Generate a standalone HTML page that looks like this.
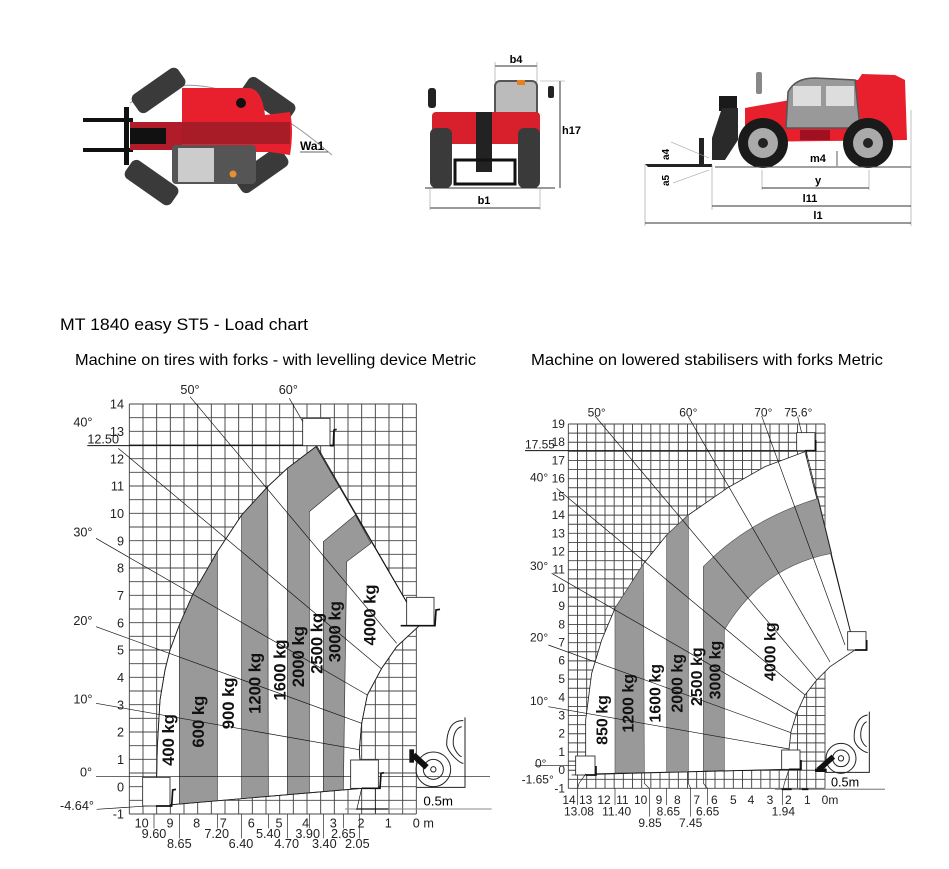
<!DOCTYPE html>
<html><head><meta charset="utf-8"><style>
html,body{margin:0;padding:0;background:#fff;}
svg{display:block;font-family:"Liberation Sans",sans-serif;}
</style></head><body>
<svg width="949" height="869" viewBox="0 0 949 869" xmlns="http://www.w3.org/2000/svg">
<rect width="949" height="869" fill="#fff"/>

<!-- ===== Top-left: top view ===== -->
<g>
  <path d="M130,103 Q210,50 332,155" fill="none" stroke="#999" stroke-width="1"/>
  <g fill="#3a3a3a">
    <rect x="-20" y="-11" width="56" height="22" rx="6" transform="translate(152,95) rotate(-35)"/>
    <rect x="-20" y="-11" width="56" height="22" rx="6" transform="translate(262,95) rotate(35)"/>
    <rect x="-20" y="-11" width="56" height="22" rx="6" transform="translate(145,178) rotate(35)"/>
    <rect x="-20" y="-11" width="56" height="22" rx="6" transform="translate(255,175) rotate(-35)"/>
  </g>
  <rect x="83" y="118" width="50" height="4" fill="#111"/>
  <rect x="83" y="148" width="50" height="4" fill="#111"/>
  <rect x="124" y="107" width="5" height="58" fill="#111"/>
  <rect x="130" y="122" width="60" height="28" fill="#b01c2a"/>
  <rect x="130" y="128" width="36" height="16" fill="#111"/>
  <path d="M182,88 L250,88 Q262,90 265,115 L290,112 Q294,130 290,155 L270,152 L182,152 Z" fill="#e8202e"/>
  <rect x="182" y="122" width="108" height="22" fill="#a81c28"/>
  <circle cx="241" cy="103" r="5" fill="#111"/>
  <rect x="172" y="145" width="84" height="39" rx="4" fill="#555"/>
  <rect x="178" y="148" width="36" height="34" fill="#ccc"/>
  <circle cx="233" cy="174" r="3.5" fill="#e8902e"/>
  <text x="300" y="150" font-size="12" font-weight="bold">Wa1</text>
  <line x1="300" y1="152" x2="328" y2="152" stroke="#333" stroke-width="0.8"/>
</g>

<!-- ===== Top-middle: front view ===== -->
<g>
  <rect x="495" y="81" width="42" height="48" rx="5" fill="#bbb" stroke="#555" stroke-width="2"/>
  <rect x="432" y="112" width="108" height="32" rx="4" fill="#d8202c"/>
  <rect x="476" y="112" width="16" height="60" fill="#222"/>
  <rect x="430" y="128" width="22" height="60" rx="6" fill="#3a3a3a"/>
  <rect x="518" y="128" width="22" height="60" rx="6" fill="#3a3a3a"/>
  <rect x="455" y="160" width="60" height="24" fill="none" stroke="#111" stroke-width="3"/>
  <rect x="428" y="88" width="8" height="20" rx="3" fill="#222"/>
  <rect x="548" y="86" width="6" height="12" rx="2" fill="#222"/>
  <rect x="517" y="80" width="8" height="5" fill="#e88020"/>
  <line x1="425" y1="188" x2="555" y2="188" stroke="#333" stroke-width="1"/>
  <line x1="495" y1="66" x2="537" y2="66" stroke="#333" stroke-width="1"/>
  <line x1="495" y1="62" x2="495" y2="82" stroke="#999" stroke-width="0.6"/>
  <line x1="537" y1="62" x2="537" y2="82" stroke="#999" stroke-width="0.6"/>
  <text x="516" y="63" font-size="11" font-weight="bold" text-anchor="middle">b4</text>
  <line x1="560" y1="81" x2="560" y2="188" stroke="#333" stroke-width="1"/>
  <line x1="540" y1="81" x2="565" y2="81" stroke="#999" stroke-width="0.6"/>
  <text x="562" y="134" font-size="11" font-weight="bold">h17</text>
  <line x1="430" y1="208" x2="540" y2="208" stroke="#333" stroke-width="1"/>
  <line x1="430" y1="188" x2="430" y2="210" stroke="#999" stroke-width="0.6"/>
  <line x1="540" y1="188" x2="540" y2="210" stroke="#999" stroke-width="0.6"/>
  <text x="484" y="204" font-size="11" font-weight="bold" text-anchor="middle">b1</text>
</g>

<!-- ===== Top-right: side view ===== -->
<g>
  <path d="M745,108 L790,100 Q800,78 830,78 L858,80 L862,74 L895,75 L905,80 L907,140 L745,142 Z" fill="#e8202e"/>
  <path d="M786,128 L788,92 Q795,78 815,78 L855,80 L860,128 Z" fill="#999" stroke="#555" stroke-width="1.5"/>
  <rect x="793" y="86" width="28" height="20" fill="#ddd"/>
  <rect x="826" y="86" width="28" height="20" fill="#ddd"/>
  <rect x="800" y="130" width="30" height="10" fill="#a01020"/>
  <rect x="719" y="96" width="18" height="15" fill="#1a1a1a"/>
  <path d="M722,108 L738,108 L738,140 L725,160 L712,160 L712,138 Z" fill="#2a2a2a"/>
  <rect x="699" y="138" width="5" height="26" fill="#222"/>
  <path d="M645,164 L712,164 L712,167 L648,167 Z" fill="#222"/>
  <circle cx="763" cy="143" r="25" fill="#1a1a1a"/><circle cx="763" cy="143" r="15" fill="#aaa"/><circle cx="763" cy="143" r="5" fill="#222"/>
  <circle cx="868" cy="143" r="25" fill="#1a1a1a"/><circle cx="868" cy="143" r="15" fill="#aaa"/><circle cx="868" cy="143" r="5" fill="#222"/>
  <rect x="756" y="72" width="6" height="22" rx="2" fill="#888"/>
  <line x1="715" y1="167" x2="911" y2="167" stroke="#444" stroke-width="1"/>
  <line x1="911" y1="110" x2="911" y2="226" stroke="#999" stroke-width="0.6"/>
  <line x1="645" y1="164" x2="645" y2="226" stroke="#999" stroke-width="0.6"/>
  <line x1="712" y1="165" x2="712" y2="210" stroke="#999" stroke-width="0.6"/>
  <line x1="762" y1="170" x2="762" y2="190" stroke="#999" stroke-width="0.6"/>
  <line x1="869" y1="170" x2="869" y2="190" stroke="#999" stroke-width="0.6"/>
  <line x1="762" y1="188" x2="869" y2="188" stroke="#333" stroke-width="1"/>
  <text x="818" y="184" font-size="11" font-weight="bold" text-anchor="middle">y</text>
  <line x1="712" y1="206" x2="911" y2="206" stroke="#333" stroke-width="1"/>
  <text x="810" y="202" font-size="11" font-weight="bold" text-anchor="middle">l11</text>
  <line x1="645" y1="223" x2="911" y2="223" stroke="#333" stroke-width="1"/>
  <text x="818" y="219" font-size="11" font-weight="bold" text-anchor="middle">l1</text>
  <text x="810" y="162" font-size="11" font-weight="bold">m4</text>
  <line x1="837" y1="151" x2="837" y2="166" stroke="#333" stroke-width="0.8"/>
  <text transform="translate(669,160) rotate(-90)" font-size="10" font-weight="bold">a4</text>
  <text transform="translate(669,186) rotate(-90)" font-size="10" font-weight="bold">a5</text>
  <line x1="671" y1="142" x2="709" y2="158" stroke="#999" stroke-width="0.6"/>
  <line x1="673" y1="183" x2="709" y2="170" stroke="#999" stroke-width="0.6"/>
</g>

<!-- ===== Titles ===== -->
<text x="60" y="330" font-size="17" textLength="248" lengthAdjust="spacingAndGlyphs">MT 1840 easy ST5 - Load chart</text>
<text x="75" y="365" font-size="16" textLength="401" lengthAdjust="spacingAndGlyphs">Machine on tires with forks - with levelling device Metric</text>
<text x="531" y="365" font-size="16" textLength="352" lengthAdjust="spacingAndGlyphs">Machine on lowered stabilisers with forks Metric</text>

<!-- ===== Left chart ===== -->
<g transform="translate(80,380) scale(0.333333)" font-family="Liberation Sans, sans-serif">
  <g stroke="#444" stroke-width="2.8">
    <path d="M148,72V1302M189,72V1302M230,72V1302M271,72V1302M312,72V1302M353,72V1302M394,72V1302M435,72V1302M476,72V1302M517,72V1302M558,72V1302M599,72V1302M640,72V1302M681,72V1302M722,72V1302M763,72V1302M804,72V1302M845,72V1302M886,72V1302M927,72V1302M968,72V1302M1009,72V1302"/>
    <path d="M148,72H1009M148,113H1009M148,154H1009M148,195H1009M148,236H1009M148,277H1009M148,318H1009M148,359H1009M148,400H1009M148,441H1009M148,482H1009M148,523H1009M148,564H1009M148,605H1009M148,646H1009M148,687H1009M148,728H1009M148,769H1009M148,810H1009M148,851H1009M148,892H1009M148,933H1009M148,974H1009M148,1015H1009M148,1056H1009M148,1097H1009M148,1138H1009M148,1179H1009M148,1220H1009M148,1261H1009M148,1302H1009"/>
  </g>
  <polygon fill="#fff" stroke="#222" stroke-width="2.5" points="228,1278 232,1100 240,960 255,870 270,810 298,735 340,640 412,515 485,405 563,320 622,265 708,200 1020,735 950,800 905,865 862,945 845,1030 838,1110 845,1225"/>
  <g fill="#999" stroke="#333" stroke-width="2">
    <polygon points="298,1272 298,735 340,640 412,515 412,1262"/>
    <polygon points="485,1256 485,405 563,320 565,1249"/>
    <polygon points="622,1244 622,265 708,200 778,320 688,395 688,1238"/>
    <polygon points="730,1235 730,485 826,405 873,490 800,545 790,1230"/>
  </g>
  <polygon fill="none" stroke="#222" stroke-width="2.5" points="228,1278 232,1100 240,960 255,870 270,810 298,735 340,640 412,515 485,405 563,320 622,265 708,200 1020,735 950,800 905,865 862,945 845,1030 838,1110 845,1225"/>
  <g stroke="#111" stroke-width="2" fill="none">
    <line x1="330" y1="50" x2="950" y2="790"/>
    <line x1="628" y1="55" x2="1020" y2="735"/>
    <line x1="115" y1="205" x2="905" y2="867"/>
    <line x1="48" y1="475" x2="862" y2="945"/>
    <line x1="48" y1="740" x2="845" y2="1030"/>
    <line x1="48" y1="970" x2="838" y2="1109"/>
    <line x1="48" y1="1190" x2="1230" y2="1190"/>
    <line x1="50" y1="1288" x2="230" y2="1276"/>
    <line x1="22" y1="197" x2="752" y2="197" stroke-width="3"/>
    <line x1="795" y1="1287" x2="1235" y2="1287" stroke="#888" stroke-width="3"/>
    <line x1="830" y1="1287" x2="925" y2="1287" stroke="#111" stroke-width="4"/>
    <line x1="845" y1="1225" x2="830" y2="1290"/>
    <line x1="886" y1="1225" x2="886" y2="1300"/>
  </g>
  <g fill="#fff" stroke="#222" stroke-width="2.5">
    <rect x="668" y="115" width="82" height="82"/>
    <rect x="980" y="652" width="82" height="85"/>
    <rect x="812" y="1140" width="83" height="85"/>
    <rect x="188" y="1192" width="82" height="86"/>
  </g>
  <g stroke="#111" stroke-width="5" fill="none">
    <path d="M750,197 L760,197 L762,150 L770,148"/>
    <path d="M962,737 L1065,737 L1068,690 L1080,688"/>
    <path d="M845,1225 L900,1225 L903,1180 L912,1178"/>
    <path d="M228,1278 L275,1278 L278,1230 L288,1228"/>
  </g>
  <g fill="none" stroke="#222" stroke-width="3">
    <path d="M1155,1012 L1155,1222 L1010,1222"/>
    <path d="M1150,1022 C1110,1020 1100,1060 1100,1095 C1105,1120 1140,1150 1150,1150"/>
    <path d="M1145,1040 C1125,1045 1118,1070 1120,1095 C1125,1115 1140,1130 1145,1130"/>
    <circle cx="1060" cy="1168" r="52"/>
    <circle cx="1060" cy="1168" r="30"/>
    <circle cx="1060" cy="1168" r="8"/>
  </g>
  <line x1="1000" y1="1125" x2="1040" y2="1162" stroke="#111" stroke-width="18"/>
  <rect x="988" y="1108" width="14" height="40" fill="#111"/>
  <text x="1030" y="1276" font-size="40">0.5m</text>
  <g font-size="50" font-weight="bold" text-anchor="middle" fill="#111">
    <text transform="translate(282,1080) rotate(-90)">400 kg</text>
    <text transform="translate(372,1025) rotate(-90)">600 kg</text>
    <text transform="translate(462,970) rotate(-90)">900 kg</text>
    <text transform="translate(542,910) rotate(-90)">1200 kg</text>
    <text transform="translate(617,870) rotate(-90)">1600 kg</text>
    <text transform="translate(672,830) rotate(-90)">2000 kg</text>
    <text transform="translate(727,790) rotate(-90)">2500 kg</text>
    <text transform="translate(782,755) rotate(-90)">3000 kg</text>
    <text transform="translate(887,705) rotate(-90)">4000 kg</text>
  </g>
  <g font-size="38" text-anchor="end" fill="#222">
    <text x="132" y="86">14</text><text x="132" y="168">13</text><text x="132" y="250">12</text>
    <text x="132" y="332">11</text><text x="132" y="414">10</text><text x="132" y="496">9</text>
    <text x="132" y="578">8</text><text x="132" y="660">7</text><text x="132" y="742">6</text>
    <text x="132" y="824">5</text><text x="132" y="906">4</text><text x="132" y="988">3</text>
    <text x="132" y="1070">2</text><text x="132" y="1152">1</text><text x="132" y="1234">0</text>
    <text x="132" y="1316">-1</text>
  </g>
  <text x="22" y="190" font-size="38" fill="#222">12.50</text>
  <g font-size="38" fill="#222">
    <text x="330" y="42" text-anchor="middle">50°</text>
    <text x="625" y="42" text-anchor="middle">60°</text>
    <text x="-20" y="140">40°</text>
    <text x="-20" y="470">30°</text>
    <text x="-20" y="735">20°</text>
    <text x="-20" y="970">10°</text>
    <text x="0" y="1190">0°</text>
    <text x="-60" y="1290">-4.64°</text>
  </g>
  <g font-size="38" text-anchor="middle" fill="#222">
    <text x="185" y="1342">10</text><text x="270" y="1342">9</text><text x="350" y="1342">8</text>
    <text x="430" y="1342">7</text><text x="514" y="1342">6</text><text x="597" y="1342">5</text>
    <text x="677" y="1342">4</text><text x="760" y="1342">3</text><text x="843" y="1342">2</text>
    <text x="925" y="1342">1</text><text x="1030" y="1342">0 m</text>
    <text x="222" y="1374">9.60</text><text x="410" y="1374">7.20</text><text x="565" y="1374">5.40</text>
    <text x="683" y="1374">3.90</text><text x="790" y="1374">2.65</text>
    <text x="298" y="1404">8.65</text><text x="483" y="1404">6.40</text><text x="620" y="1404">4.70</text>
    <text x="733" y="1404">3.40</text><text x="832" y="1404">2.05</text>
  </g>
  <g stroke="#222" stroke-width="2">
    <path d="M222,1302V1345M298,1302V1375M412,1302V1345M485,1302V1375M565,1302V1345M622,1302V1375M688,1302V1345M730,1302V1375M790,1302V1345M838,1302V1375"/>
  </g>
</g>

<!-- ===== Right chart ===== -->
<g transform="translate(515,400) scale(0.333333)" font-family="Liberation Sans, sans-serif">
  <g stroke="#444" stroke-width="2.8">
    <path d="M160,72V1165M187.5,72V1165M215,72V1165M242.5,72V1165M270,72V1165M297.5,72V1165M325,72V1165M352.5,72V1165M380,72V1165M407.5,72V1165M435,72V1165M462.5,72V1165M490,72V1165M517.5,72V1165M545,72V1165M572.5,72V1165M600,72V1165M627.5,72V1165M655,72V1165M682.5,72V1165M710,72V1165M737.5,72V1165M765,72V1165M792.5,72V1165M820,72V1165M847.5,72V1165M875,72V1165M902.5,72V1165M930,72V1165"/>
    <path d="M160,72H930M160,99.3H930M160,126.7H930M160,154H930M160,181.3H930M160,208.7H930M160,236H930M160,263.3H930M160,290.7H930M160,318H930M160,345.3H930M160,372.7H930M160,400H930M160,427.3H930M160,454.7H930M160,482H930M160,509.3H930M160,536.7H930M160,564H930M160,591.3H930M160,618.7H930M160,646H930M160,673.3H930M160,700.7H930M160,728H930M160,755.3H930M160,782.7H930M160,810H930M160,837.3H930M160,864.7H930M160,892H930M160,919.3H930M160,946.7H930M160,974H930M160,1001.3H930M160,1028.7H930M160,1056H930M160,1083.3H930M160,1110.7H930M160,1138H930M160,1165H930"/>
  </g>
  <polygon fill="#fff" stroke="#222" stroke-width="2.5" points="212,1122 212,960 230,820 260,720 300,625 385,492 455,405 520,345 640,262 750,200 870,155 1020,750 945,800 905,840 870,885 845,940 828,995 822,1048 822,1108"/>
  <g fill="#999" stroke="#555" stroke-width="2">
    <polygon points="300,1119 300,625 385,492 388,1117"/>
    <polygon points="455,1116 455,405 520,345 520,1115"/>
    <path d="M565,1113 L565,500 Q700,360 910,295 L950,460 Q740,500 628,690 L628,1111 Z"/>
  </g>
  <g stroke="#111" stroke-width="2" fill="none">
    <line x1="240" y1="48" x2="905" y2="839"/>
    <line x1="520" y1="50" x2="945" y2="786"/>
    <line x1="740" y1="48" x2="990" y2="735"/>
    <line x1="848" y1="50" x2="1020" y2="750"/>
    <line x1="125" y1="265" x2="870" y2="885"/>
    <line x1="110" y1="520" x2="845" y2="944"/>
    <line x1="100" y1="735" x2="828" y2="998"/>
    <line x1="100" y1="920" x2="822" y2="1047"/>
    <line x1="60" y1="1097" x2="215" y2="1097"/>
    <line x1="170" y1="1125" x2="822" y2="1108"/>
    <line x1="30" y1="152" x2="900" y2="152" stroke-width="3"/>
    <line x1="780" y1="1168" x2="1110" y2="1168" stroke="#999" stroke-width="4"/>
    <line x1="800" y1="1168" x2="830" y2="1168" stroke="#111" stroke-width="5"/>
    <line x1="860" y1="1168" x2="880" y2="1168" stroke="#111" stroke-width="5"/>
    <line x1="855" y1="1108" x2="855" y2="1170"/>
  </g>
  <g fill="#fff" stroke="#222" stroke-width="2.5">
    <rect x="845" y="98" width="55" height="54"/>
    <rect x="998" y="695" width="55" height="55"/>
    <rect x="800" y="1050" width="55" height="58"/>
    <rect x="182" y="1068" width="58" height="57"/>
  </g>
  <g stroke="#111" stroke-width="5" fill="none">
    <path d="M870,152 L902,152 L902,120"/>
    <path d="M1020,750 L1055,750 L1055,720"/>
    <path d="M822,1108 L858,1108 L858,1080"/>
    <path d="M212,1125 L243,1125 L243,1098"/>
  </g>
  <g fill="none" stroke="#222" stroke-width="3">
    <path d="M1063,935 L1063,1117 L930,1117"/>
    <path d="M1058,945 C1025,950 1015,990 1018,1020 C1022,1040 1045,1055 1058,1058"/>
    <path d="M1055,965 C1040,972 1035,995 1038,1015 C1042,1030 1050,1038 1055,1040"/>
    <circle cx="978" cy="1075" r="45"/>
    <circle cx="978" cy="1075" r="25"/>
    <circle cx="978" cy="1075" r="8"/>
  </g>
  <line x1="910" y1="1110" x2="955" y2="1070" stroke="#111" stroke-width="16"/>
  <rect x="900" y="1106" width="35" height="10" fill="#111"/>
  <text x="948" y="1160" font-size="38">0.5m</text>
  <g font-size="48" font-weight="bold" text-anchor="middle" fill="#111">
    <text transform="translate(278,960) rotate(-90)">850 kg</text>
    <text transform="translate(356,910) rotate(-90)">1200 kg</text>
    <text transform="translate(436,880) rotate(-90)">1600 kg</text>
    <text transform="translate(503,850) rotate(-90)">2000 kg</text>
    <text transform="translate(561,830) rotate(-90)">2500 kg</text>
    <text transform="translate(616,810) rotate(-90)">3000 kg</text>
    <text transform="translate(781,755) rotate(-90)">4000 kg</text>
  </g>
  <g font-size="36" text-anchor="end" fill="#222">
    <text x="150" y="84">19</text><text x="150" y="138">18</text><text x="150" y="193">17</text>
    <text x="150" y="248">16</text><text x="150" y="302">15</text><text x="150" y="357">14</text>
    <text x="150" y="412">13</text><text x="150" y="466">12</text><text x="150" y="521">11</text>
    <text x="150" y="576">10</text><text x="150" y="630">9</text><text x="150" y="685">8</text>
    <text x="150" y="740">7</text><text x="150" y="794">6</text><text x="150" y="849">5</text>
    <text x="150" y="904">4</text><text x="150" y="958">3</text><text x="150" y="1013">2</text>
    <text x="150" y="1068">1</text><text x="150" y="1122">0</text><text x="150" y="1177">-1</text>
  </g>
  <text x="30" y="145" font-size="36" fill="#222">17.55</text>
  <g font-size="36" fill="#222">
    <text x="245" y="50" text-anchor="middle">50°</text>
    <text x="520" y="50" text-anchor="middle">60°</text>
    <text x="745" y="50" text-anchor="middle">70°</text>
    <text x="850" y="50" text-anchor="middle">75.6°</text>
    <text x="45" y="245">40°</text>
    <text x="45" y="510">30°</text>
    <text x="45" y="725">20°</text>
    <text x="45" y="915">10°</text>
    <text x="60" y="1102">0°</text>
    <text x="20" y="1150">-1.65°</text>
  </g>
  <g font-size="36" text-anchor="middle" fill="#222">
    <text x="162" y="1212">14</text><text x="212" y="1212">13</text><text x="267" y="1212">12</text>
    <text x="322" y="1212">11</text><text x="377" y="1212">10</text><text x="432" y="1212">9</text>
    <text x="487" y="1212">8</text><text x="545" y="1212">7</text><text x="598" y="1212">6</text>
    <text x="655" y="1212">5</text><text x="708" y="1212">4</text><text x="765" y="1212">3</text>
    <text x="820" y="1212">2</text><text x="877" y="1212">1</text><text x="945" y="1212">0m</text>
    <text x="192" y="1246">13.08</text><text x="305" y="1246">11.40</text><text x="460" y="1246">8.65</text>
    <text x="578" y="1246">6.65</text><text x="805" y="1246">1.94</text>
    <text x="405" y="1281">9.85</text><text x="527" y="1281">7.45</text>
  </g>
  <g stroke="#222" stroke-width="2" fill="none">
    <path d="M188,1165V1215M300,1165V1215M455,1165V1215M803,1165V1215"/>
    <path d="M212,1122 L192,1150 L188,1165"/>
    <path d="M388,1117 L388,1150 L403,1165 L403,1250"/>
    <path d="M520,1115 L520,1150 L527,1165 L527,1250"/>
    <path d="M565,1113 L565,1150 L578,1165 L578,1215"/>
    <path d="M822,1108 L808,1150 L805,1165"/>
  </g>
</g>
</svg>
</body></html>
